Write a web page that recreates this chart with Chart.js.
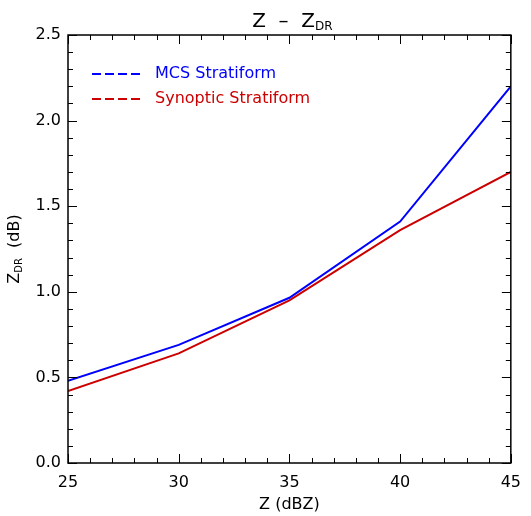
<!DOCTYPE html>
<html>
<head>
<meta charset="utf-8">
<script src="https://cdn.jsdelivr.net/npm/chart.js@4.4.1/dist/chart.umd.min.js"></script>
<style>
  html, body { margin: 0; padding: 0; background: #fff; }
  #wrap { width: 531px; height: 516px; }
</style>
</head>
<body>
<div id="wrap"><canvas id="zdrChart" width="531" height="516"></canvas></div>
<script>
// reflectivity bins (dBZ)
const zValues = [25, 30, 35, 40, 45];
const mcsZdr = [0.48, 0.69, 0.965, 1.41, 2.20];
const synopticZdr = [0.42, 0.64, 0.95, 1.36, 1.70];
const seriesLabels = ['MCS Stratiform', 'Synoptic Stratiform'];
const xTicks = [25, 30, 35, 40, 45];
const yTicks = [0.0, 0.5, 1.0, 1.5, 2.0, 2.5];

const FONT = 'DejaVu Sans';

// inward IDL style ticks on all four sides
const tickPlugin = {
  id: 'idlTicks',
  afterDraw(chart) {
    const { ctx, chartArea: a } = chart;
    const xs = chart.scales.x, ys = chart.scales.y;
    ctx.save();
    ctx.strokeStyle = '#000';
    ctx.lineWidth = 1;
    ctx.beginPath();
    for (let v = 25; v <= 45; v += 1) {
      const px = Math.round(xs.getPixelForValue(v)) + 0.5;
      const len = v % 5 === 0 ? 9 : 5;
      ctx.moveTo(px, a.bottom); ctx.lineTo(px, a.bottom - len);
      ctx.moveTo(px, a.top); ctx.lineTo(px, a.top + len);
    }
    for (let i = 0; i <= 25; i++) {
      const py = Math.round(ys.getPixelForValue(i / 10)) + 0.5;
      const len = i % 5 === 0 ? 9 : 5;
      ctx.moveTo(a.left, py); ctx.lineTo(a.left + len, py);
      ctx.moveTo(a.right, py); ctx.lineTo(a.right - len, py);
    }
    ctx.stroke();
    ctx.lineWidth = 1.5;
    ctx.strokeRect(a.left, a.top, a.right - a.left, a.bottom - a.top);
    ctx.restore();
  }
};

// titles with subscripts + dashed legend inside the plot
const textPlugin = {
  id: 'idlText',
  afterDraw(chart) {
    const { ctx, chartArea: a } = chart;
    const cx = (a.left + a.right) / 2;
    ctx.save();
    ctx.fillStyle = '#000';
    ctx.textBaseline = 'alphabetic';

    // top title
    const main = 'Z  \u2013  Z';
    ctx.font = '12px ' + FONT;
    const subW = ctx.measureText('DR').width;
    ctx.font = '20px ' + FONT;
    const mainW = ctx.measureText(main).width;
    let x0 = cx + 3 - (mainW + subW) / 2;
    ctx.textAlign = 'left';
    ctx.fillText(main, x0, 27);
    ctx.font = '12px ' + FONT;
    ctx.fillText('DR', x0 + mainW, 30);

    // x axis title
    ctx.font = '16px ' + FONT;
    ctx.textAlign = 'center';
    ctx.fillText('Z (dBZ)', cx, 509);

    // y axis title, rotated
    ctx.save();
    ctx.translate(19, (a.top + a.bottom) / 2);
    ctx.rotate(-Math.PI / 2);
    ctx.font = '16px ' + FONT;
    const yMain = 'Z';
    const yRest = '  (dB)';
    const w1 = ctx.measureText(yMain).width;
    const w3 = ctx.measureText(yRest).width;
    ctx.font = '10px ' + FONT;
    const w2 = ctx.measureText('DR').width;
    let sx = -(w1 + w2 + w3) / 2;
    ctx.textAlign = 'left';
    ctx.font = '16px ' + FONT;
    ctx.fillText(yMain, sx, 0);
    ctx.font = '10px ' + FONT;
    ctx.fillText('DR', sx + w1, 3);
    ctx.font = '16px ' + FONT;
    ctx.fillText(yRest, sx + w1 + w2, 0);
    ctx.restore();

    // legend
    chart.data.datasets.forEach((ds, i) => {
      const ly = 74 + i * 25;
      ctx.strokeStyle = ds.borderColor;
      ctx.lineWidth = 2;
      ctx.setLineDash([9, 4]);
      ctx.beginPath();
      ctx.moveTo(92, ly);
      ctx.lineTo(143, ly);
      ctx.stroke();
      ctx.setLineDash([]);
      ctx.fillStyle = ds.borderColor;
      ctx.font = '16px ' + FONT;
      ctx.textAlign = 'left';
      ctx.textBaseline = 'middle';
      ctx.fillText(ds.label, 155, ly);
    });
    ctx.restore();
  }
};

const ctx = document.getElementById('zdrChart').getContext('2d');
new Chart(ctx, {
  type: 'line',
  data: {
    datasets: [
      {
        label: seriesLabels[0],
        data: zValues.map((z, i) => ({ x: z, y: mcsZdr[i] })),
        borderColor: '#0000ff',
        borderWidth: 2,
        pointRadius: 0,
        tension: 0,
      },
      {
        label: seriesLabels[1],
        data: zValues.map((z, i) => ({ x: z, y: synopticZdr[i] })),
        borderColor: '#cc0000',
        borderWidth: 2,
        pointRadius: 0,
        tension: 0,
      },
    ],
  },
  options: {
    responsive: false,
    animation: false,
    devicePixelRatio: 1,
    layout: { padding: { top: 35, right: 20, left: 0, bottom: 0 } },
    plugins: {
      legend: { display: false },
      tooltip: { enabled: false },
    },
    scales: {
      x: {
        type: 'linear',
        min: 25,
        max: 45,
        afterBuildTicks: s => { s.ticks = xTicks.map(v => ({ value: v })); },
        afterFit: s => { s.height = 53; },
        grid: { display: false, drawTicks: false },
        border: { display: false },
        ticks: {
          color: '#000',
          font: { family: FONT, size: 16 },
          padding: 10,
          maxRotation: 0,
          callback: v => String(v),
        },
      },
      y: {
        type: 'linear',
        min: 0,
        max: 2.5,
        afterBuildTicks: s => { s.ticks = yTicks.map(v => ({ value: v })); },
        afterFit: s => { s.width = 68; },
        grid: { display: false, drawTicks: false },
        border: { display: false },
        ticks: {
          color: '#000',
          font: { family: FONT, size: 16 },
          padding: 7,
          callback: v => Number(v).toFixed(1),
        },
      },
    },
  },
  plugins: [tickPlugin, textPlugin],
});
</script>
</body>
</html>
